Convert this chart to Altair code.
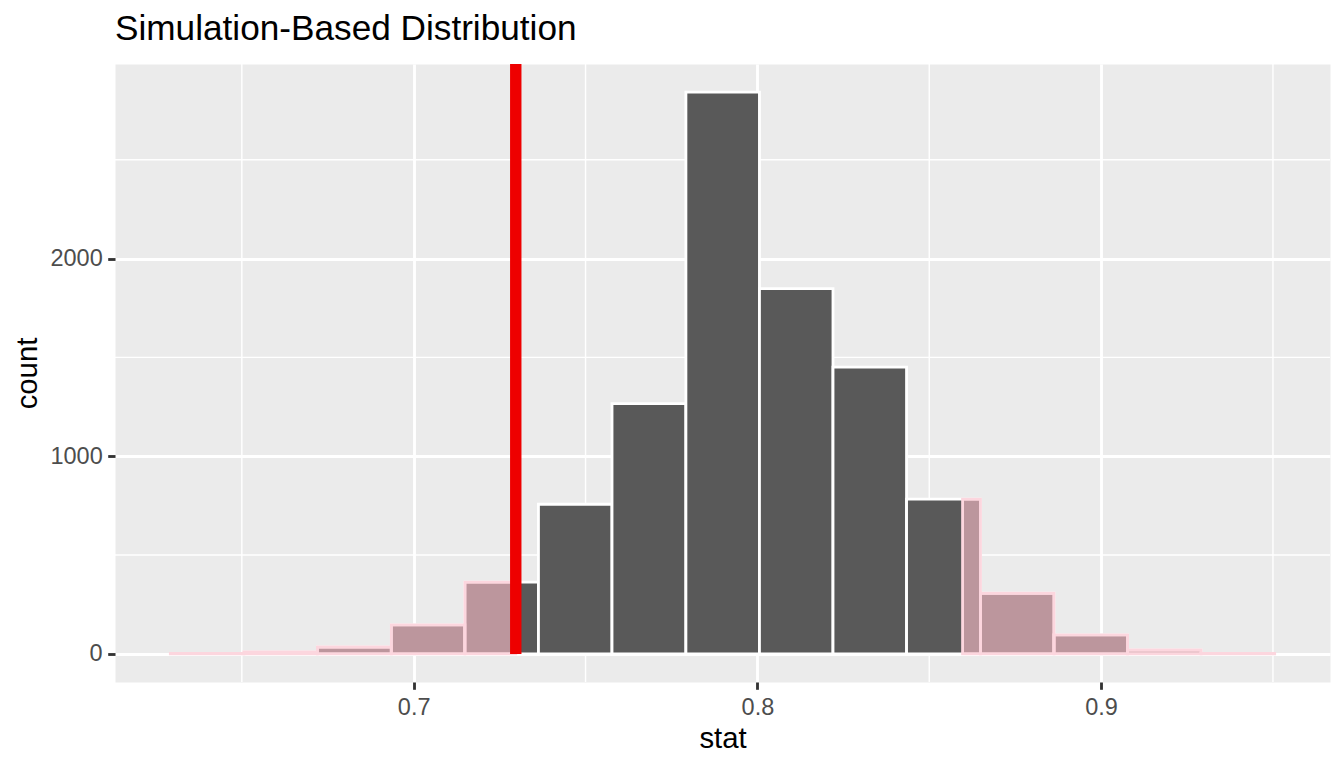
"""Histogram of a simulation-based null distribution with shaded p-value regions."""

import altair as alt
import pandas as pd

# --- data ------------------------------------------------------------------
bin_edges = [0.6292, 0.6506, 0.6720, 0.6935, 0.7149, 0.7363, 0.7577, 0.7792,
             0.8006, 0.8220, 0.8434, 0.8649, 0.8863, 0.9077, 0.9291, 0.9505]
bin_counts = [3, 10, 35, 147, 363, 757, 1266, 2842, 1848, 1451, 783, 307, 96, 20, 3]
obs_stat = 0.7297
mirror_stat = 0.8597
x_major = [0.7, 0.8, 0.9]
x_minor = [0.65, 0.75, 0.85, 0.95]
y_major = [0, 1000, 2000]
y_minor = [500, 1500, 2500]

bars_df = pd.DataFrame({
    "left": bin_edges[:-1],
    "right": bin_edges[1:],
    "count": bin_counts,
    "base": 0,
})

# parts of each bin that lie beyond the observed statistic (both tails)
shade_rows = []
for lo, hi, n in zip(bin_edges[:-1], bin_edges[1:], bin_counts):
    if lo < obs_stat:
        shade_rows.append({"left": lo, "right": min(hi, obs_stat), "count": n, "base": 0})
    if hi > mirror_stat:
        shade_rows.append({"left": max(lo, mirror_stat), "right": hi, "count": n, "base": 0})
shade_df = pd.DataFrame(shade_rows)

FONT = "Liberation Sans"
x_scale = alt.Scale(domain=[0.6131, 0.9666], nice=False, zero=False)
y_scale = alt.Scale(domain=[-142, 2984], nice=False, zero=False)

axis_style = dict(
    grid=True,
    gridColor="white",
    gridWidth=2.84,
    domain=False,
    tickColor="#333333",
    tickWidth=2.84,
    tickSize=7.3,
    labelFont=FONT,
    labelFontSize=23.5,
    labelColor="#4D4D4D",
    titleFont=FONT,
    titleFontSize=29.3,
    titleFontWeight="normal",
    titleColor="black",
)
x_axis = alt.Axis(values=x_major, format=".1f", labelPadding=5.9,
                  titlePadding=6, **axis_style)
y_axis = alt.Axis(values=y_major, format="d", labelPadding=5.5,
                  titlePadding=7, **axis_style)

grid_x = (
    alt.Chart(pd.DataFrame({"stat": x_minor}))
    .mark_rule(color="white", strokeWidth=1.42)
    .encode(x=alt.X("stat:Q", scale=x_scale, axis=x_axis, title="stat"))
)
grid_y = (
    alt.Chart(pd.DataFrame({"count": y_minor}))
    .mark_rule(color="white", strokeWidth=1.42)
    .encode(y=alt.Y("count:Q", scale=y_scale, axis=y_axis, title="count"))
)

bars = (
    alt.Chart(bars_df)
    .mark_rect(fill="#595959", stroke="white", strokeWidth=2.84)
    .encode(
        x=alt.X("left:Q", scale=x_scale, axis=x_axis, title="stat"),
        x2="right:Q",
        y=alt.Y("count:Q", scale=y_scale, axis=y_axis, title="count"),
        y2="base:Q",
    )
)

shade = (
    alt.Chart(shade_df)
    .mark_rect(fill="pink", fillOpacity=0.6, stroke="#FCD6DE", strokeWidth=2.84)
    .encode(
        x=alt.X("left:Q", scale=x_scale, axis=x_axis, title="stat"),
        x2="right:Q",
        y=alt.Y("count:Q", scale=y_scale, axis=y_axis, title="count"),
        y2="base:Q",
    )
)

obs_line = (
    alt.Chart(pd.DataFrame({"stat": [obs_stat], "count": [0]}))
    .mark_rule(color="#EE0000", strokeWidth=11.4)
    .encode(
        x=alt.X("stat:Q", scale=x_scale, axis=x_axis, title="stat"),
        y=alt.Y("count:Q", scale=y_scale, axis=y_axis, title="count"),
        y2=alt.value(0),
    )
)

chart = (
    alt.layer(grid_x, grid_y, bars, shade, obs_line)
    .properties(
        width=1215,
        height=618,
        autosize=alt.AutoSizeParams(type="none"),
        padding={"left": 107, "top": 56, "right": 6, "bottom": 78},
        title=alt.Title(
            "Simulation-Based Distribution",
            anchor="start",
            frame="group",
            font=FONT,
            fontSize=35.2,
            fontWeight="normal",
            color="black",
            offset=11,
        ),
    )
    .configure_view(fill="#EBEBEB", stroke="transparent")
)

chart.save("out.html", embed_options={"renderer": "svg", "actions": False})
